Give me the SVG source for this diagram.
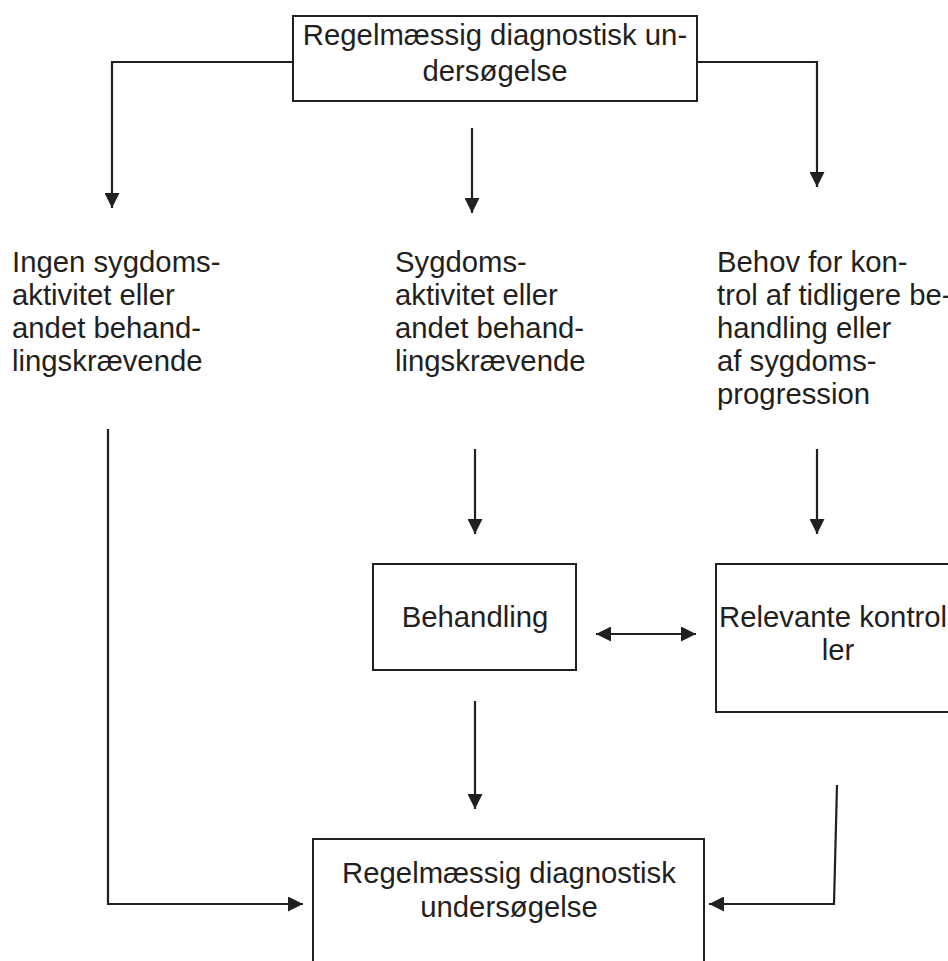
<svg xmlns="http://www.w3.org/2000/svg" width="948" height="961" viewBox="0 0 948 961">
<style>
.box{fill:#fff;stroke:#231f20;stroke-width:2}
.t{font-family:"Liberation Sans",Arial,sans-serif;font-size:29.3px;fill:#231f20}
.c{text-anchor:middle}
.ln{fill:none;stroke:#231f20;stroke-width:2.2}
</style>
<defs>
<marker id="ah" viewBox="0 0 15 15" refX="15" refY="7.5" markerWidth="15" markerHeight="15" markerUnits="userSpaceOnUse" orient="auto-start-reverse">
<path d="M0,0 L15,7.5 L0,15 z" fill="#231f20"/>
</marker>
</defs>
<rect width="948" height="961" fill="#fff"/>
<g id="connectors">
<path class="ln" d="M293,62 H112 V208" marker-end="url(#ah)"/>
<path class="ln" d="M697,62 H817 V187" marker-end="url(#ah)"/>
<path class="ln" d="M472,128 V213" marker-end="url(#ah)"/>
<path class="ln" d="M475,449 V534" marker-end="url(#ah)"/>
<path class="ln" d="M817,449 V534" marker-end="url(#ah)"/>
<path class="ln" d="M596,634 H696" marker-start="url(#ah)" marker-end="url(#ah)"/>
<path class="ln" d="M475,701 V809" marker-end="url(#ah)"/>
<path class="ln" d="M108,429 V904 H303" marker-end="url(#ah)"/>
<path class="ln" d="M837,785 L834,904 H709" marker-end="url(#ah)"/>
</g>
<g id="top">
<rect class="box" x="293" y="16" width="404" height="85"/>
<text class="t c" x="495" y="45">Regelmæssig diagnostisk un-</text>
<text class="t c" x="495" y="81">dersøgelse</text>
</g>
<g id="ingen">
<text class="t" x="12" y="272">Ingen sygdoms-</text>
<text class="t" x="12" y="305">aktivitet eller</text>
<text class="t" x="12" y="338">andet behand-</text>
<text class="t" x="12" y="371">lingskrævende</text>
</g>
<g id="sygdom">
<text class="t" x="395" y="272">Sygdoms-</text>
<text class="t" x="395" y="305">aktivitet eller</text>
<text class="t" x="395" y="338">andet behand-</text>
<text class="t" x="395" y="371">lingskrævende</text>
</g>
<g id="behov">
<text class="t" x="717" y="272">Behov for kon-</text>
<text class="t" x="717" y="305">trol af tidligere be-</text>
<text class="t" x="717" y="338">handling eller</text>
<text class="t" x="717" y="371">af sygdoms-</text>
<text class="t" x="717" y="404">progression</text>
</g>
<g id="behandling">
<rect class="box" x="373" y="564" width="203" height="106"/>
<text class="t c" x="475" y="627">Behandling</text>
</g>
<g id="kontroller">
<rect class="box" x="716" y="564" width="244" height="148"/>
<text class="t c" x="838" y="627">Relevante kontrol-</text>
<text class="t c" x="838" y="660">ler</text>
</g>
<g id="bottom">
<rect class="box" x="313" y="839" width="391" height="140"/>
<text class="t c" x="509" y="883">Regelmæssig diagnostisk</text>
<text class="t c" x="509" y="917">undersøgelse</text>
</g>
</svg>
